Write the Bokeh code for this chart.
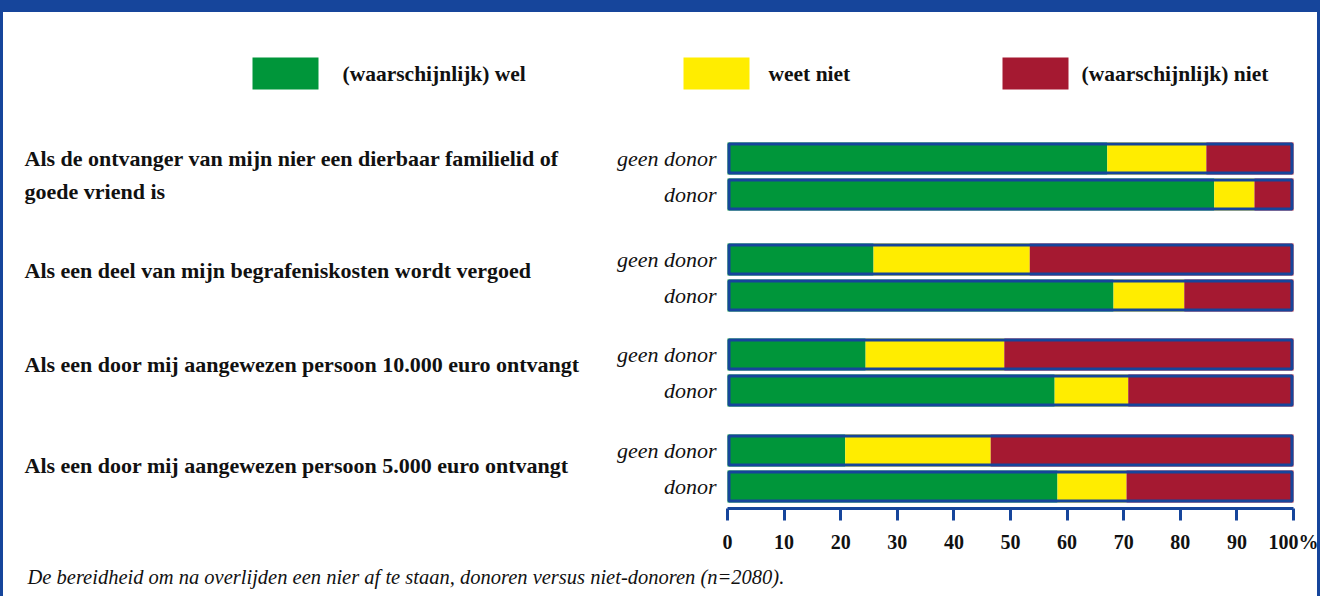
from bokeh.plotting import figure
from bokeh.models import Range1d, LinearAxis, FixedTicker, Title, ColumnDataSource
from bokeh.core.properties import value
from bokeh.embed import file_html
from bokeh.resources import INLINE

# ---------------- data ----------------
categories = [
    "Als de ontvanger van mijn nier een dierbaar familielid of\ngoede vriend is",
    "Als een deel van mijn begrafeniskosten wordt vergoed",
    "Als een door mij aangewezen persoon 10.000 euro ontvangt",
    "Als een door mij aangewezen persoon 5.000 euro ontvangt",
]
groups = ["geen donor", "donor"]
series = ["(waarschijnlijk) wel", "weet niet", "(waarschijnlijk) niet"]

wel_geen = [67.1, 25.8, 24.4, 20.8]
weet_geen = [17.5, 27.6, 24.5, 25.7]
niet_geen = [15.4, 46.6, 51.1, 53.5]

wel_donor = [86.0, 68.2, 57.8, 58.3]
weet_donor = [7.1, 12.5, 13.0, 12.2]
niet_donor = [6.9, 19.3, 29.2, 29.5]

ticks = [0, 10, 20, 30, 40, 50, 60, 70, 80, 90, 100]
tick_labels = ["0", "10", "20", "30", "40", "50", "60", "70", "80", "90", "100%"]

caption = "De bereidheid om na overlijden een nier af te staan, donoren versus niet-donoren (n=2080)."

# ---------------- style ----------------
GREEN = "#00963a"
YELLOW = "#ffed00"
RED = "#a51931"
BLUE = "#16459b"
TXT = "#111111"
FONT = value("Liberation Serif")

W, H = 1320, 596
FRAME_H = 508
X0_PX, PX_PER = 727.0, 5.66


def px2x(px):
    return (px - X0_PX) / PX_PER


p = figure(
    width=W, height=H,
    x_range=Range1d(px2x(0), px2x(W)),
    y_range=Range1d(FRAME_H, 0),
    x_axis_type=None, y_axis_type=None,
    output_backend="svg", toolbar_location=None,
    min_border_left=0, min_border_right=0, min_border_top=0,
    min_border_bottom=H - FRAME_H,
    outline_line_color=None,
    background_fill_color=None, border_fill_color=None,
)
p.xgrid.visible = False
p.ygrid.visible = False
# blue frame of the box (thick top, thin sides)
p.styles = {
    "box-shadow": f"inset 0 12px 0 0 {BLUE}, inset 3px 0 0 0 {BLUE}, inset -3px 0 0 0 {BLUE}",
    "background-color": "white",
}

# ---------------- bars ----------------
group_mid = [176, 277, 372, 468]
row_off = [-18, 18]
colors = [GREEN, YELLOW, RED]

ys, lefts, rights, cols = [], [], [], []
outline_y = []
for i in range(len(categories)):
    for g, vals in enumerate([(wel_geen[i], weet_geen[i], niet_geen[i]),
                              (wel_donor[i], weet_donor[i], niet_donor[i])]):
        y = group_mid[i] + row_off[g]
        outline_y.append(y)
        start = 0.0
        for k, v in enumerate(vals):
            ys.append(y)
            lefts.append(start)
            rights.append(start + v)
            cols.append(colors[k])
            start += v

src = ColumnDataSource(dict(y=ys, left=lefts, right=rights, color=cols))
p.hbar(y="y", left="left", right="right", height=32, fill_color="color",
       line_color=None, source=src)
p.hbar(y=outline_y, left=0.27, right=99.73, height=29, fill_color=None,
       line_color=BLUE, line_width=3)

# ---------------- legend ----------------
leg_sw_left = [252, 683, 1002]
leg_txt_x = [342, 768, 1081]
p.quad(left=[px2x(v) for v in leg_sw_left], right=[px2x(v + 66) for v in leg_sw_left],
       top=[57] * 3, bottom=[89] * 3, fill_color=colors, line_color=None)
p.text(x=[px2x(v) for v in leg_txt_x], y=[73] * 3, text=series,
       text_font=FONT, text_font_style="bold", text_font_size="21.5px",
       text_color=TXT, text_baseline="middle", text_align="left")

# ---------------- category labels ----------------
cx, cy, ct = [], [], []
cat_y = [[158, 191], [270], [364], [465]]
for i, c in enumerate(categories):
    for line, y in zip(c.split("\n"), cat_y[i]):
        cx.append(px2x(24))
        cy.append(y)
        ct.append(line)
p.text(x=cx, y=cy, text=ct, text_font=FONT, text_font_style="bold",
       text_font_size="22px", text_color=TXT, text_baseline="middle", text_align="left")

# sub-group labels
gx, gy, gt = [], [], []
for i in range(len(categories)):
    for g in range(2):
        gx.append(px2x(716))
        gy.append(group_mid[i] + row_off[g])
        gt.append(groups[g])
p.text(x=gx, y=gy, text=gt, text_font=FONT, text_font_style="italic",
       text_font_size="22px", text_color=TXT, text_baseline="middle", text_align="right")

# ---------------- axis ----------------
ax = LinearAxis(ticker=FixedTicker(ticks=ticks), bounds=(0, 100))
ax.major_label_overrides = {t: l for t, l in zip(ticks, tick_labels)}
ax.axis_line_color = BLUE
ax.axis_line_width = 3
ax.major_tick_line_color = BLUE
ax.major_tick_line_width = 3
ax.major_tick_in = 0
ax.major_tick_out = 12
ax.minor_tick_line_color = None
ax.major_label_standoff = 10
ax.major_label_text_font = "Liberation Serif"
ax.major_label_text_font_style = "bold"
ax.major_label_text_font_size = "20px"
ax.major_label_text_color = TXT
p.add_layout(ax, "below")

# caption
p.add_layout(Title(text=caption, align="left", offset=27, standoff=17,
                   text_font="Liberation Serif", text_font_style="italic",
                   text_font_size="20.5px", text_color=TXT), "below")

open("out.html", "w").write(file_html(p, INLINE))
